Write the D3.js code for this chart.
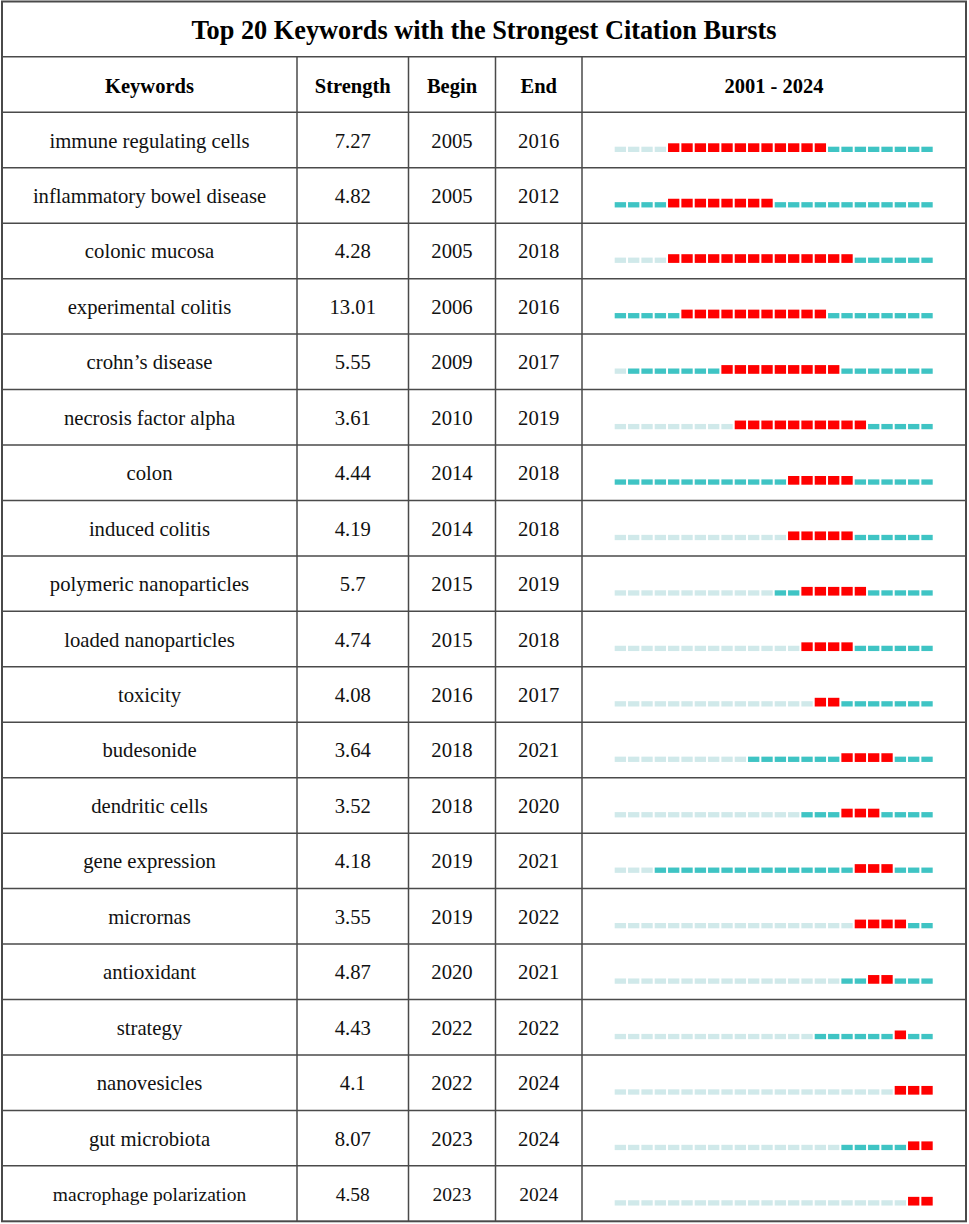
<!DOCTYPE html>
<html>
<head>
<meta charset="utf-8">
<script src="https://cdn.jsdelivr.net/npm/d3@7"></script>
<style>
  body { margin: 0; background: #fff; }
  svg { display: block; font-family: "Times New Roman", "Liberation Serif", serif; }
</style>
</head>
<body>
<div id="chart"></div>
<script>
    var width = 969;
    var height = 1224;

    // table data
    var keywords = ["immune regulating cells", "inflammatory bowel disease", "colonic mucosa",
      "experimental colitis", "crohn\u2019s disease", "necrosis factor alpha", "colon",
      "induced colitis", "polymeric nanoparticles", "loaded nanoparticles", "toxicity",
      "budesonide", "dendritic cells", "gene expression", "micrornas", "antioxidant",
      "strategy", "nanovesicles", "gut microbiota", "macrophage polarization"];
    var strengths = ["7.27", "4.82", "4.28", "13.01", "5.55", "3.61", "4.44", "4.19", "5.7", "4.74",
      "4.08", "3.64", "3.52", "4.18", "3.55", "4.87", "4.43", "4.1", "8.07", "4.58"];
    var begins = [2005, 2005, 2005, 2006, 2009, 2010, 2014, 2014, 2015, 2015,
      2016, 2018, 2018, 2019, 2019, 2020, 2022, 2022, 2023, 2023];
    var ends = [2016, 2012, 2018, 2016, 2017, 2019, 2018, 2018, 2019, 2018,
      2017, 2021, 2020, 2021, 2022, 2021, 2022, 2024, 2024, 2024];
    // first year the keyword shows up (teal cells start here)
    var firstYears = [2005, 2001, 2005, 2001, 2002, 2010, 2001, 2014, 2013, 2015,
      2016, 2011, 2015, 2004, 2019, 2018, 2016, 2022, 2018, 2023];
    var years = d3.range(2001, 2025);
    var headers = ["Keywords", "Strength", "Begin", "End", "2001 - 2024"];

    // table frame
    var tLeft = 2, tRight = 966, tTop = 1.5, tBottom = 1221.3;
    var titleBottom = 56.7, headBottom = 112.3;
    var colEdges = [tLeft, 297, 408.5, 495.5, 582, tRight];

    var svg = d3.select("#chart").append("svg")
      .attr("width", width).attr("height", height);

    var y = d3.scaleBand().domain(d3.range(keywords.length))
      .range([headBottom, tBottom]);
    var x = d3.scaleBand().domain(years)
      .range([614.7, 932.7]).paddingInner(0.15).paddingOuter(0);

    var colMid = function(i) { return (colEdges[i] + colEdges[i + 1]) / 2; };

    // title
    svg.append("text")
      .attr("x", (tLeft + tRight) / 2).attr("y", 39)
      .attr("text-anchor", "middle")
      .attr("font-size", 26.3).attr("font-weight", "bold")
      .text("Top 20 Keywords with the Strongest Citation Bursts");

    // header
    svg.selectAll("text.head").data(headers).enter().append("text")
      .attr("class", "head")
      .attr("x", function(d, i) { return colMid(i); })
      .attr("y", 92.5)
      .attr("text-anchor", "middle")
      .attr("font-size", 20.5).attr("font-weight", "bold")
      .text(function(d) { return d; });

    // body text
    var rows = svg.selectAll("g.row").data(keywords).enter().append("g")
      .attr("class", "row")
      .attr("transform", function(d, i) { return "translate(0," + y(i) + ")"; });

    var cellText = function(i, fn) {
      rows.append("text")
        .attr("x", colMid(i))
        .attr("y", y.bandwidth() / 2 + 7.5)
        .attr("text-anchor", "middle")
        .attr("font-size", function(d, r) { return r === keywords.length - 1 ? 19.5 : 20.7; })
        .attr("fill", "#111")
        .text(fn);
    };
    cellText(0, function(d) { return d; });
    cellText(1, function(d, i) { return strengths[i]; });
    cellText(2, function(d, i) { return begins[i]; });
    cellText(3, function(d, i) { return ends[i]; });

    // burst strips
    var barBottom = 39.7;
    rows.each(function(d, r) {
      d3.select(this).selectAll("rect").data(years).enter().append("rect")
        .attr("x", function(yr) { return x(yr); })
        .attr("width", x.bandwidth())
        .attr("y", function(yr) {
          return yr >= begins[r] && yr <= ends[r] ? barBottom - 8.7 : barBottom - 5.3;
        })
        .attr("height", function(yr) {
          return yr >= begins[r] && yr <= ends[r] ? 8.7 : 5.3;
        })
        .attr("fill", function(yr) {
          if (yr >= begins[r] && yr <= ends[r]) return "#ff0000";
          if (yr >= firstYears[r]) return "#3fc4c4";
          return "#d0e9ea";
        });
    });

    // grid lines
    var lineColor = "#4a4a4a";
    svg.append("line").attr("x1", tLeft).attr("x2", tRight)
      .attr("y1", titleBottom).attr("y2", titleBottom)
      .attr("stroke", lineColor).attr("stroke-width", 1.5);
    svg.selectAll("line.h").data(d3.range(keywords.length)).enter().append("line")
      .attr("class", "h")
      .attr("x1", tLeft).attr("x2", tRight)
      .attr("y1", function(i) { return y(i); }).attr("y2", function(i) { return y(i); })
      .attr("stroke", lineColor).attr("stroke-width", 1.5);
    svg.selectAll("line.v").data(colEdges.slice(1, -1)).enter().append("line")
      .attr("class", "v")
      .attr("x1", function(d) { return d; }).attr("x2", function(d) { return d; })
      .attr("y1", titleBottom).attr("y2", tBottom)
      .attr("stroke", lineColor).attr("stroke-width", 1.5);
    svg.append("rect")
      .attr("x", tLeft).attr("y", tTop)
      .attr("width", tRight - tLeft).attr("height", tBottom - tTop)
      .attr("fill", "none").attr("stroke", lineColor).attr("stroke-width", 2);
</script>
</body>
</html>
